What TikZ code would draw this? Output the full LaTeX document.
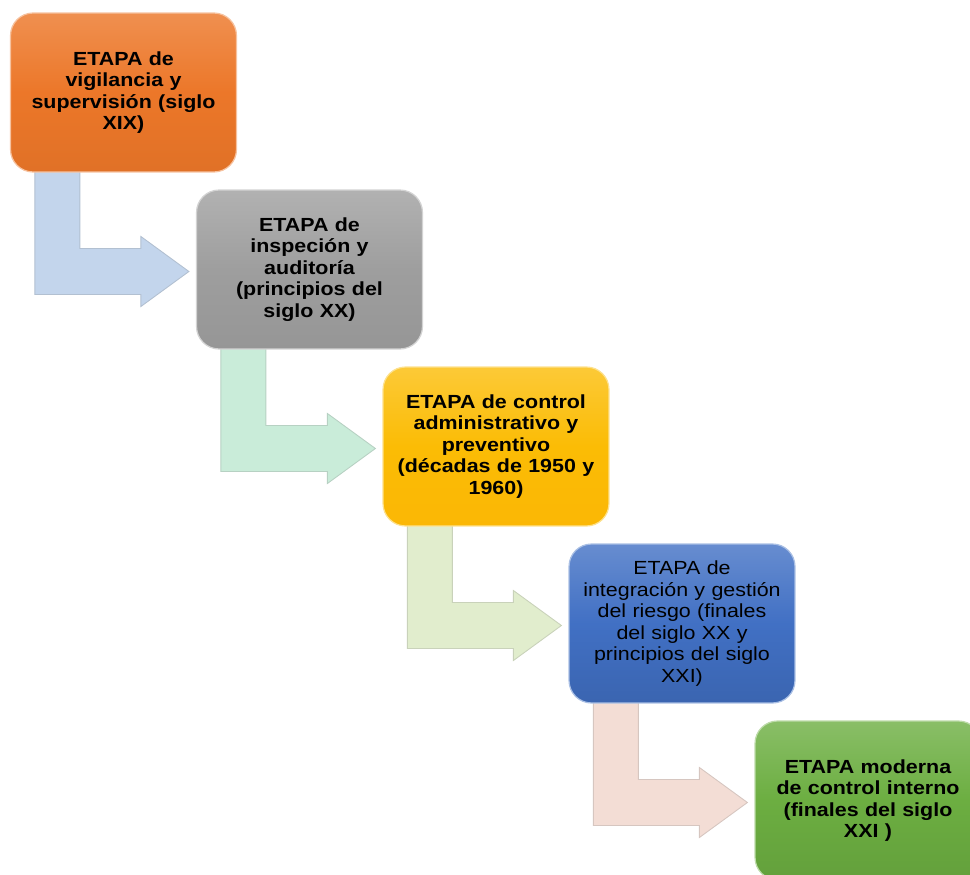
\documentclass[tikz,border=0pt]{standalone}
\usepackage{fontspec}
\setmainfont[FakeStretch=1.13]{Liberation Sans}
\usepackage{tikz}
\usetikzlibrary{calc,shapes,arrows,positioning,backgrounds}

\definecolor{naranja}{HTML}{EC7729}
\definecolor{gris}{HTML}{9E9E9E}
\definecolor{oro}{HTML}{FBBC05}
\definecolor{azul}{HTML}{4170C4}
\definecolor{verde}{HTML}{6CAE41}
\definecolor{flAzul}{HTML}{C3D5EC}
\definecolor{flVerde}{HTML}{C9ECD9}
\definecolor{flLima}{HTML}{E1EDCD}
\definecolor{flRosa}{HTML}{F3DDD5}

\begin{document}
\begin{tikzpicture}[x=0.02cm,y=-0.02cm]
	\tikzstyle{every node}+=[inner sep=0pt]
	\tikzstyle{etapa}=[rectangle, rounded corners=0.45cm, minimum width=4.52cm, minimum height=3.18cm, text width=4.15cm, align=center, line width=0.7pt, font=\fontsize{10.8}{12.2}\selectfont\bfseries]
	\tikzstyle{flechaA}=[fill=flAzul, draw=flAzul!75!gray, line width=0.5pt]
	\tikzstyle{flechaB}=[fill=flVerde, draw=flVerde!75!gray, line width=0.5pt]
	\tikzstyle{flechaC}=[fill=flLima, draw=flLima!75!gray, line width=0.5pt]
	\tikzstyle{flechaD}=[fill=flRosa, draw=flRosa!75!gray, line width=0.5pt]
	\useasboundingbox (0,0) rectangle (970,875);

	\node [etapa, top color=naranja!82!white, bottom color=naranja!95!black, middle color=naranja, draw=naranja!45!white] (e1) at (123.5,92.5) {ETAPA de\\vigilancia y\\supervisión (siglo\\XIX)};
	\node [etapa, top color=gris!80!white, bottom color=gris!95!black, middle color=gris, draw=gris!45!white] (e2) at (309.5,269.5) {ETAPA de\\inspeción y\\auditoría\\(principios del\\siglo XX)};
	\node [etapa, top color=oro!80!white, bottom color=oro!92!orange, middle color=oro, draw=oro!45!white] (e3) at (496,446.5) {ETAPA de control\\administrativo y\\preventivo\\(décadas de 1950 y\\1960)};
	\node [etapa, top color=azul!80!white, bottom color=azul!90!black, middle color=azul, draw=azul!45!white, font=\fontsize{10.8}{12.2}\selectfont] (e4) at (682,623.5) {ETAPA de\\integración y gestión\\del riesgo (finales\\del siglo XX y\\principios del siglo\\XXI)};
	\node [etapa, top color=verde!80!white, bottom color=verde!92!black, middle color=verde, draw=verde!45!white] (e5) at (868,800.5) {ETAPA moderna\\de control interno\\(finales del siglo\\XXI )};

	\begin{pgfonlayer}{background}
		\foreach \a/\b/\c in {e1/e2/flechaA, e2/e3/flechaB, e3/e4/flechaC, e4/e5/flechaD}
		{
			\draw [\c] ($(\a.south west)+(25,-8)$) -- ($(\a.south west)+(70,-8)$) |- ($(\b.west)+(-55,-21)$) -- ($(\b.west)+(-55,-33)$) -- ($(\b.west)+(-7,2)$) -- ($(\b.west)+(-55,37)$) -- ($(\b.west)+(-55,25)$) -| ($(\a.south west)+(25,-8)$) -- cycle;
		}
	\end{pgfonlayer}
\end{tikzpicture}
\end{document}
